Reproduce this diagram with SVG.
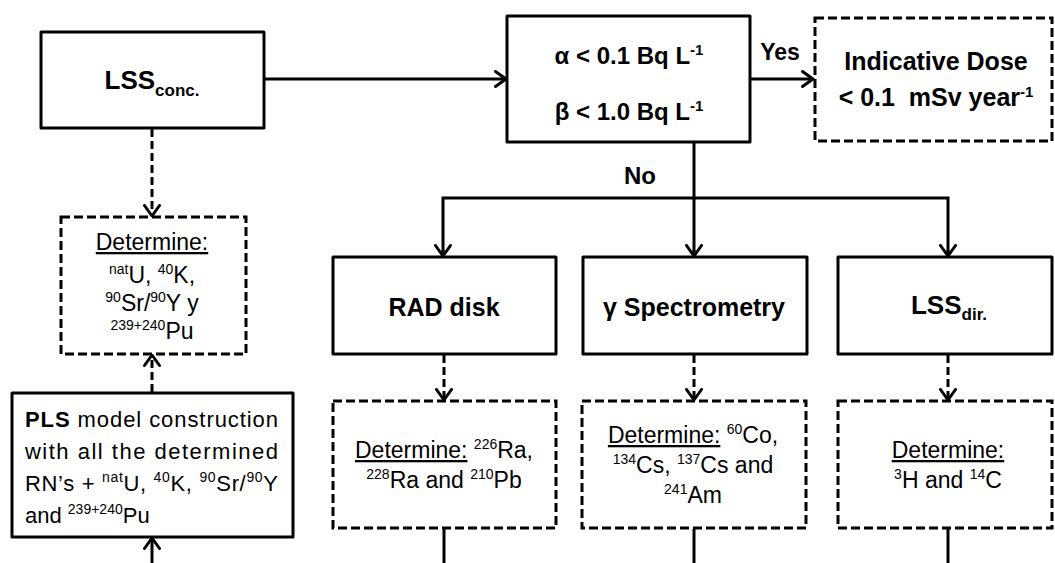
<svg xmlns="http://www.w3.org/2000/svg" width="1055" height="563" viewBox="0 0 1055 563">
<style>
  .box { fill: #fff; stroke: #000; stroke-width: 3; stroke-linejoin: round; }
  .dbox { fill: #fff; stroke: #000; stroke-width: 3; stroke-dasharray: 9 4; }
  .ln { fill: none; stroke: #000; stroke-width: 3; }
  .dln { fill: none; stroke: #000; stroke-width: 3; stroke-dasharray: 8 4; }
  text { font-family: "Liberation Sans", Arial, sans-serif; fill: #000; }
  .t { font-size: 25px; font-weight: bold; text-anchor: middle; }
  .b { font-size: 24px; font-weight: bold; text-anchor: middle; }
  .r { font-size: 23px; text-anchor: middle; }
  .p { font-size: 22px; }
  .sup { font-size: 14px; }
  .bsup { font-size: 15px; }
  .sub { font-size: 17px; }
  .u { text-decoration: underline; }
</style>
<defs>
  <marker id="arr" viewBox="0 0 14 18" refX="12.5" refY="9" markerWidth="14" markerHeight="18" markerUnits="userSpaceOnUse" orient="auto">
    <path d="M2,1.5 L12.5,9 L2,16.5" fill="none" stroke="#000" stroke-width="3" stroke-linecap="round" stroke-linejoin="round"/>
  </marker>
</defs>

<g id="connectors">
  <line class="ln" x1="264" y1="79" x2="506" y2="79" marker-end="url(#arr)"/>
  <line class="ln" x1="750" y1="79" x2="813" y2="79" marker-end="url(#arr)"/>
  <path class="ln" d="M694,142 V256"/>
  <path class="ln" d="M694,250 V256" marker-end="url(#arr)"/>
  <path class="ln" d="M443,256 V198 H948 V256"/>
  <path class="ln" d="M443,250 V256" marker-end="url(#arr)"/>
  <path class="ln" d="M948,250 V256" marker-end="url(#arr)"/>
  <line class="dln" x1="444" y1="355" x2="444" y2="400" marker-end="url(#arr)"/>
  <line class="dln" x1="694" y1="355" x2="694" y2="400" marker-end="url(#arr)"/>
  <line class="dln" x1="948" y1="355" x2="948" y2="400" marker-end="url(#arr)"/>
  <line class="ln" x1="444" y1="529" x2="444" y2="563"/>
  <line class="ln" x1="694" y1="529" x2="694" y2="563"/>
  <line class="ln" x1="948" y1="529" x2="948" y2="563"/>
  <line class="dln" x1="152" y1="129" x2="152" y2="216" marker-end="url(#arr)"/>
  <line class="dln" x1="152" y1="392" x2="152" y2="355" marker-end="url(#arr)"/>
  <line class="ln" x1="152" y1="563" x2="152" y2="538" marker-end="url(#arr)"/>
</g>

<g id="lss-conc">
  <rect class="box" x="41" y="32" width="223" height="96"/>
  <text class="t" x="152" y="89" style="font-size:26px">LSS<tspan class="sub" dy="7">conc.</tspan></text>
</g>

<g id="screening">
  <rect class="box" x="507" y="16" width="243" height="126"/>
  <text class="b" x="629" y="64">α &lt; 0.1 Bq L<tspan class="bsup" dy="-9">-1</tspan></text>
  <text class="b" x="629" y="120">β &lt; 1.0 Bq L<tspan class="bsup" dy="-9">-1</tspan></text>
</g>

<g id="labels">
  <text class="b" x="780" y="60" style="font-size:23px">Yes</text>
  <text class="b" x="640" y="184">No</text>
</g>

<g id="indicative-dose">
  <rect class="dbox" x="815" y="18" width="237" height="123"/>
  <text class="t" x="936" y="70">Indicative Dose</text>
  <text class="t" x="936" y="106">&lt; 0.1&#160; mSv year<tspan class="bsup" dy="-9">-1</tspan></text>
</g>

<g id="rad-disk">
  <rect class="box" x="333" y="257" width="223" height="97"/>
  <text class="t" x="444" y="316">RAD disk</text>
</g>

<g id="gamma">
  <rect class="box" x="583" y="257" width="224" height="97"/>
  <text class="t" x="694" y="316">γ Spectrometry</text>
</g>

<g id="lss-dir">
  <rect class="box" x="838" y="257" width="214" height="97"/>
  <text class="t" x="949" y="314" style="font-size:26px">LSS<tspan class="sub" dy="6">dir.</tspan></text>
</g>

<g id="rad-det">
  <rect class="dbox" x="333" y="401" width="223" height="127"/>
  <text class="r" x="444" y="458"><tspan class="u">Determine:</tspan> <tspan class="sup" dy="-9">226</tspan><tspan dy="9">Ra,</tspan></text>
  <text class="r" x="444" y="488"><tspan class="sup" dy="-9">228</tspan><tspan dy="9">Ra and </tspan><tspan class="sup" dy="-9">210</tspan><tspan dy="9">Pb</tspan></text>
</g>

<g id="gamma-det">
  <rect class="dbox" x="582" y="401" width="224" height="127"/>
  <text class="r" x="693" y="443"><tspan class="u">Determine:</tspan> <tspan class="sup" dy="-9">60</tspan><tspan dy="9">Co,</tspan></text>
  <text class="r" x="693" y="473"><tspan class="sup" dy="-9">134</tspan><tspan dy="9">Cs, </tspan><tspan class="sup" dy="-9">137</tspan><tspan dy="9">Cs and</tspan></text>
  <text class="r" x="693" y="503"><tspan class="sup" dy="-9">241</tspan><tspan dy="9">Am</tspan></text>
</g>

<g id="lss-det">
  <rect class="dbox" x="838" y="401" width="214" height="127"/>
  <text class="r" x="948" y="458"><tspan class="u">Determine:</tspan></text>
  <text class="r" x="948" y="488"><tspan class="sup" dy="-9">3</tspan><tspan dy="9">H and </tspan><tspan class="sup" dy="-9">14</tspan><tspan dy="9">C</tspan></text>
</g>

<g id="left-det">
  <rect class="dbox" x="61" y="217" width="185" height="137"/>
  <text class="r" x="152" y="250"><tspan class="u">Determine:</tspan></text>
  <text class="r" x="152" y="283"><tspan class="sup" dy="-9">nat</tspan><tspan dy="9">U, </tspan><tspan class="sup" dy="-9">40</tspan><tspan dy="9">K,</tspan></text>
  <text class="r" x="152" y="311"><tspan class="sup" dy="-9">90</tspan><tspan dy="9">Sr/</tspan><tspan class="sup" dy="-9">90</tspan><tspan dy="9">Y y</tspan></text>
  <text class="r" x="152" y="339"><tspan class="sup" dy="-9">239+240</tspan><tspan dy="9">Pu</tspan></text>
</g>

<g id="pls">
  <rect class="box" x="12" y="393" width="281" height="144"/>
  <text class="p" x="25" y="427" textLength="253" lengthAdjust="spacing"><tspan font-weight="bold">PLS</tspan> model construction</text>
  <text class="p" x="25" y="459" textLength="253" lengthAdjust="spacing">with all the determined</text>
  <text class="p" x="25" y="491" textLength="253" lengthAdjust="spacing">RN’s + <tspan class="sup" dy="-9">nat</tspan><tspan dy="9">U, </tspan><tspan class="sup" dy="-9">40</tspan><tspan dy="9">K, </tspan><tspan class="sup" dy="-9">90</tspan><tspan dy="9">Sr/</tspan><tspan class="sup" dy="-9">90</tspan><tspan dy="9">Y</tspan></text>
  <text class="p" x="25" y="523">and <tspan class="sup" dy="-9">239+240</tspan><tspan dy="9">Pu</tspan></text>
</g>
</svg>
